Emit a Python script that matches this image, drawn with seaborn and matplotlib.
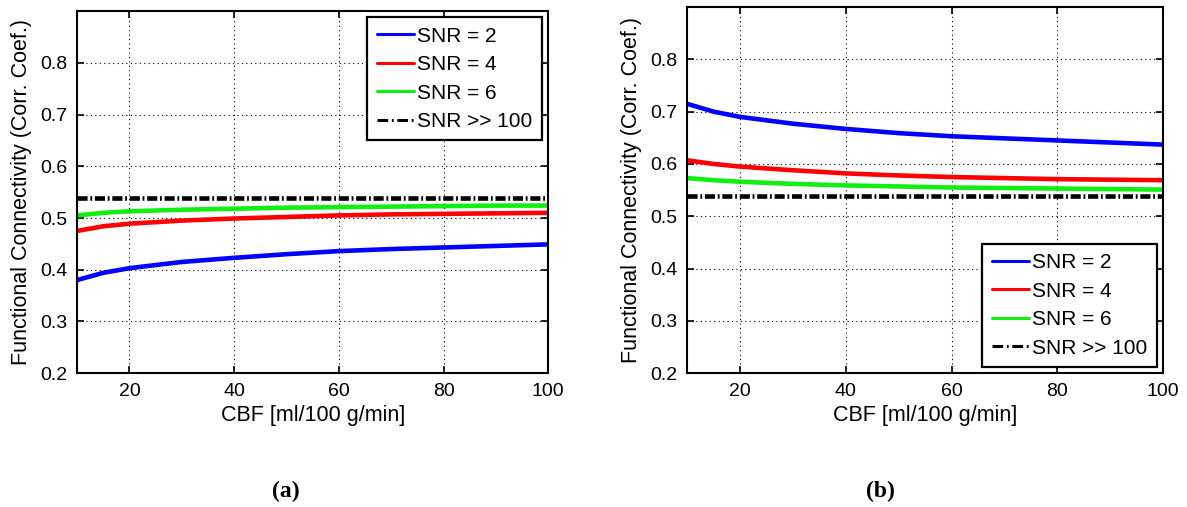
import numpy as np
import pandas as pd
import seaborn as sns
import matplotlib.pyplot as plt

# CBF sample points and read-off correlation values
cbf = [10, 15, 20, 30, 40, 50, 60, 70, 80, 90, 100]

# panel (a)
a_snr2 = [0.380, 0.394, 0.403, 0.415, 0.423, 0.430, 0.436, 0.440, 0.443, 0.446, 0.449]
a_snr4 = [0.475, 0.484, 0.489, 0.495, 0.499, 0.502, 0.505, 0.507, 0.508, 0.509, 0.510]
a_snr6 = [0.505, 0.510, 0.513, 0.516, 0.518, 0.520, 0.521, 0.522, 0.523, 0.524, 0.524]
a_ref = [0.538] * len(cbf)

# panel (b)
b_snr2 = [0.715, 0.700, 0.690, 0.677, 0.667, 0.659, 0.653, 0.649, 0.645, 0.641, 0.637]
b_snr4 = [0.607, 0.600, 0.595, 0.588, 0.582, 0.578, 0.575, 0.573, 0.571, 0.570, 0.569]
b_snr6 = [0.573, 0.569, 0.566, 0.562, 0.559, 0.557, 0.555, 0.554, 0.553, 0.552, 0.551]
b_ref = [0.538] * len(cbf)

labels = ['SNR = 2', 'SNR = 4', 'SNR = 6', 'SNR >> 100']
colors = ['#0000ff', '#ff0000', '#11ee11', 'black']
styles = ['-', '-', '-', (0, (2.2, 0.6, 0.4, 0.6))]
y_ticks = [0.2, 0.3, 0.4, 0.5, 0.6, 0.7, 0.8]
x_ticks = [20, 40, 60, 80, 100]

sns.set_theme(style="white")
plt.rcParams['font.family'] = ['Liberation Sans', 'DejaVu Sans']
plt.rcParams['text.color'] = 'black'

fig = plt.figure(figsize=(11.87, 5.07), dpi=100)
ax_a = fig.add_axes([0.0649, 0.264, 0.397, 0.714])
ax_b = fig.add_axes([0.579, 0.264, 0.401, 0.722])


def draw_panel(ax, series, legend_loc):
    for vals, lab, col, ls in zip(series, labels, colors, styles):
        sns.lineplot(x=cbf, y=vals, ax=ax, color=col, linestyle=ls,
                     linewidth=3.3, label=lab)
    ax.set_xlim(10, 100)
    ax.set_ylim(0.2, 0.9)
    ax.set_xticks(x_ticks)
    ax.set_yticks(y_ticks)
    ax.set_yticklabels([f'{v:.1f}' for v in y_ticks])
    ax.grid(True, color='black', linestyle=(0, (1, 3)), linewidth=0.8)
    ax.tick_params(direction='in', length=5, width=1.2, labelsize=14,
                   colors='black', top=True, right=True,
                   bottom=True, left=True, pad=7)
    for s in ax.spines.values():
        s.set_color('black')
        s.set_linewidth(1.5)
    ax.set_xlabel('CBF [ml/100 g/min]', fontsize=15.5, color='black',
                  labelpad=4)
    ax.set_ylabel('Functional Connectivity (Corr. Coef.)', fontsize=15.5,
                  color='black', labelpad=6)
    leg = ax.legend(loc=legend_loc, fontsize=15, frameon=True, fancybox=False,
                    handlelength=1.8, handletextpad=0.15, labelspacing=0.45,
                    borderpad=0.45, borderaxespad=0.3)
    leg.get_frame().set_edgecolor('black')
    leg.get_frame().set_linewidth(1.6)
    leg.get_frame().set_alpha(1)
    for t in leg.get_texts():
        t.set_color('black')
    for h, ls in zip(leg.get_lines(), styles):
        h.set_linewidth(2.2)
        if ls != '-':
            h.set_linestyle((0, (3.5, 1.2, 0.6, 1.2)))


draw_panel(ax_a, [a_snr2, a_snr4, a_snr6, a_ref], 'upper right')
draw_panel(ax_b, [b_snr2, b_snr4, b_snr6, b_ref], 'lower right')

fig.text(0.241, 0.030, '(a)', fontsize=17, fontweight='bold',
         family='Liberation Serif', ha='center', va='center')
fig.text(0.742, 0.030, '(b)', fontsize=17, fontweight='bold',
         family='Liberation Serif', ha='center', va='center')

fig.savefig('out.png', dpi=100)
